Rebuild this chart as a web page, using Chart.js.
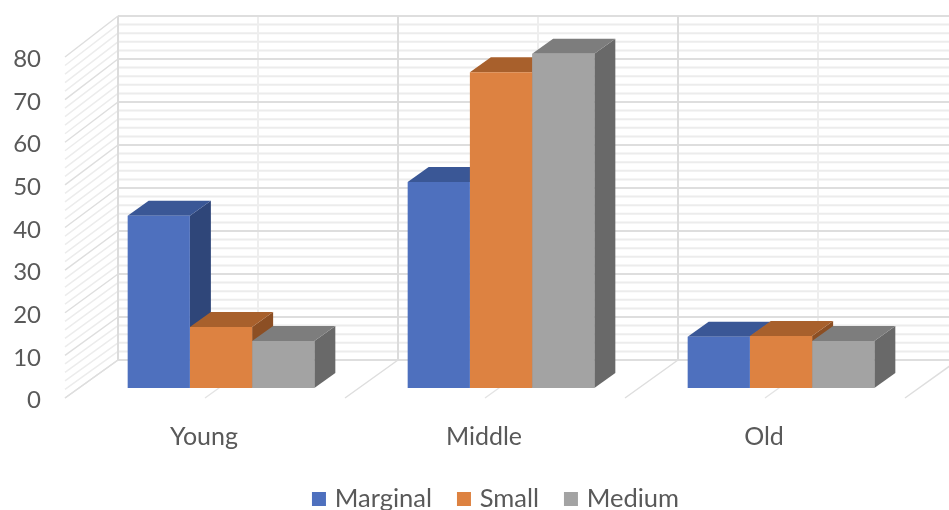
<!DOCTYPE html>
<html>
<head>
<meta charset="utf-8">
<title>Farm size by age group</title>
<style>
    html, body { margin: 0; background: #ffffff; }
    canvas { display: block; }
</style>
<script src="https://cdn.jsdelivr.net/npm/chart.js@4/dist/chart.umd.min.js"></script>
</head>
<body>
<canvas id="sizeChart" width="949" height="510"></canvas>
<script>
const categories = ["Young", "Middle", "Old"];
const marginal = [40.4, 48.3, 12];
const small = [14.3, 74.1, 12.2];
const medium = [11, 78.4, 11];

const tickStep = 10;
const minorStep = 2;
const axisMax = 80;

// face colours per series: front, top, right side
const blueFaces = ["#4e70be", "#3a5796", "#2f4679"];
const orangeFaces = ["#dd8241", "#a8602c", "#8c4f24"];
const grayFaces = ["#a3a3a3", "#7d7d7d", "#696969"];

// how far the floor and walls sit from the plane of the bars
const barDepth = { dx: 21, dy: -15 };
const frontOffset = { dx: -16, dy: 10 };
const backOffset = { dx: 37, dy: -28 };
const backStretch = 1.0088;

function line(ctx, x1, y1, x2, y2, color, width) {
    ctx.beginPath();
    ctx.moveTo(x1, y1);
    ctx.lineTo(x2, y2);
    ctx.strokeStyle = color;
    ctx.lineWidth = width;
    ctx.stroke();
}

function face(ctx, points, color) {
    ctx.beginPath();
    points.forEach(function (p, i) {
        if (i === 0) ctx.moveTo(p[0], p[1]);
        else ctx.lineTo(p[0], p[1]);
    });
    ctx.closePath();
    ctx.fillStyle = color;
    ctx.fill();
}

// back wall, left wall and floor
const wallsPlugin = {
    id: "walls",
    beforeDatasetsDraw(chart) {
        const ctx = chart.ctx;
        const x = chart.scales.x;
        const y = chart.scales.y;
        const zero = y.getPixelForValue(0);
        const slot = (x.right - x.left) / categories.length;
        const backX = x.left + backOffset.dx;
        const frontX = x.left + frontOffset.dx;
        const wallY = function (v) {
            return zero + backOffset.dy + (y.getPixelForValue(v) - zero) * backStretch;
        };
        const sideY = function (v) {
            return y.getPixelForValue(v) + frontOffset.dy;
        };

        ctx.save();
        for (let v = 0; v <= axisMax; v += minorStep) {
            if (v % tickStep === 0) continue;
            line(ctx, backX, wallY(v), chart.width, wallY(v), "#ececec", 2);
            line(ctx, frontX, sideY(v), backX, wallY(v), "#ececec", 1.5);
        }
        for (let i = 0; i <= categories.length; i++) {
            const mid = i + 0.5;
            line(ctx, backX + mid * slot, wallY(0), backX + mid * slot, wallY(axisMax), "#eeeeee", 2);
            line(ctx, frontX + mid * slot, sideY(0), backX + mid * slot, wallY(0), "#e4e4e4", 1.5);
        }
        for (let v = 0; v <= axisMax; v += tickStep) {
            line(ctx, backX, wallY(v), chart.width, wallY(v), "#dedede", 2);
            line(ctx, frontX, sideY(v), backX, wallY(v), "#dedede", 1.5);
        }
        for (let i = 0; i <= categories.length; i++) {
            line(ctx, backX + i * slot, wallY(0), backX + i * slot, wallY(axisMax), "#dcdcdc", 2);
            line(ctx, frontX + i * slot, sideY(0), backX + i * slot, wallY(0), "#dedede", 1.5);
        }
        ctx.restore();
    },
};

// top and right faces of each bar; Chart.js paints the fronts afterwards
const barFacesPlugin = {
    id: "barFaces",
    beforeDatasetsDraw(chart) {
        const ctx = chart.ctx;
        const dx = barDepth.dx;
        const dy = barDepth.dy;
        categories.forEach(function (name, j) {
            chart.data.datasets.forEach(function (dataset, i) {
                const bar = chart.getDatasetMeta(i).data[j];
                const left = bar.x - bar.width / 2;
                const right = bar.x + bar.width / 2;
                face(ctx, [[right, bar.y], [right + dx, bar.y + dy], [right + dx, bar.base + dy], [right, bar.base]], dataset.faces[2]);
                face(ctx, [[left, bar.y], [left + dx, bar.y + dy], [right + dx, bar.y + dy], [right, bar.y]], dataset.faces[1]);
            });
        });
    },
};

// nudge the legend row left of the plot centre
const legendShiftPlugin = {
    id: "legendShift",
    afterLayout(chart) {
        chart.legend.left -= 3.5;
        chart.legend.right -= 3.5;
    },
};

new Chart(document.getElementById("sizeChart"), {
    type: "bar",
    plugins: [wallsPlugin, barFacesPlugin, legendShiftPlugin],
    data: {
        labels: categories,
        datasets: [
            { label: "Marginal", data: marginal, backgroundColor: blueFaces[0], faces: blueFaces },
            { label: "Small", data: small, backgroundColor: orangeFaces[0], faces: orangeFaces },
            { label: "Medium", data: medium, backgroundColor: grayFaces[0], faces: grayFaces },
        ],
    },
    options: {
        responsive: false,
        animation: false,
        layout: {
            padding: { left: 0, right: 28, top: 47, bottom: -11.75 },
        },
        datasets: {
            bar: { categoryPercentage: 2 / 3, barPercentage: 1 },
        },
        scales: {
            x: {
                grid: { display: false, drawTicks: false },
                border: { display: false },
                ticks: {
                    color: "#595959",
                    font: { family: "Lato", size: 25 },
                    padding: 34,
                    labelOffset: frontOffset.dx - 1,
                    maxRotation: 0,
                },
                afterFit(scale) {
                    scale.height = 69.25;
                },
            },
            y: {
                min: 0,
                max: axisMax,
                grid: { display: false, drawTicks: false },
                border: { display: false },
                ticks: {
                    stepSize: tickStep,
                    color: "#595959",
                    font: { family: "Lato", size: 24 },
                    padding: 40,
                    labelOffset: frontOffset.dy + 2.5,
                },
                afterFit(scale) {
                    scale.width = 81;
                    scale.paddingTop = 0;
                    scale.paddingBottom = 0;
                },
            },
        },
        plugins: {
            tooltip: { enabled: false },
            legend: {
                position: "bottom",
                fullSize: false,
                labels: {
                    color: "#595959",
                    font: { family: "Lato", size: 25.5 },
                    boxWidth: 6,
                    boxHeight: 6,
                    padding: 29,
                    // thick outline widens the key without widening its gap to the text
                    generateLabels(chart) {
                        return Chart.defaults.plugins.legend.labels.generateLabels(chart).map(function (item) {
                            item.strokeStyle = item.fillStyle;
                            item.lineWidth = 8;
                            return item;
                        });
                    },
                },
            },
        },
    },
});
</script>
</body>
</html>
